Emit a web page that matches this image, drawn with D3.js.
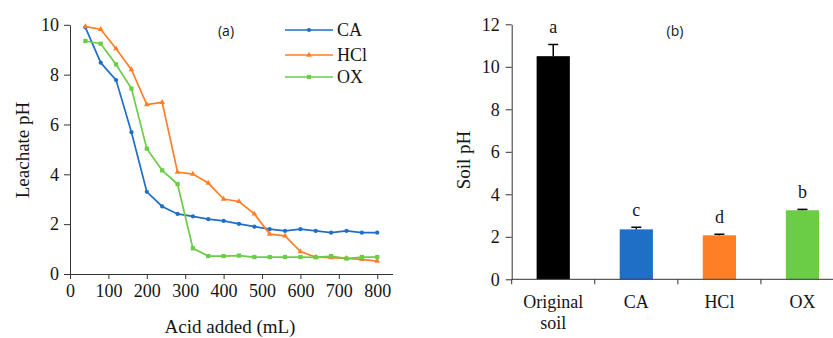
<!DOCTYPE html>
<html>
<head>
<meta charset="utf-8">
<script src="https://cdn.jsdelivr.net/npm/d3@7"></script>
<style>
  body { margin: 0; background: #fff; }
  .domain, .tick line { stroke: #333; }
</style>
</head>
<body>
<svg id="chart" width="833" height="338"></svg>
<script>
// leachate data (a)
var acidAdded = [40,80,120,160,200,240,280,320,360,400,440,480,520,560,600,640,680,720,760,800];
var caPH  = [9.9,8.48,7.78,5.69,3.3,2.71,2.41,2.31,2.2,2.13,2.01,1.9,1.8,1.73,1.8,1.73,1.66,1.73,1.66,1.66];
var hclPH = [9.93,9.82,9.04,8.2,6.8,6.89,4.09,4.01,3.65,3.01,2.91,2.41,1.6,1.53,0.9,0.68,0.66,0.63,0.59,0.52];
var oxPH  = [9.35,9.24,8.41,7.44,5.03,4.16,3.61,1.03,0.72,0.72,0.74,0.68,0.68,0.68,0.68,0.67,0.72,0.62,0.68,0.68];
var xTicksA = [0,100,200,300,400,500,600,700,800];
var yTicksA = [0,2,4,6,8,10];

// soil data (b)
var soilCats = ["Original soil","CA","HCl","OX"];
var soilPH   = [10.5,2.35,2.07,3.25];
var soilErr  = [0.55,0.1,0.05,0.04];
var soilLetters = ["a","c","d","b"];
var yTicksB = [0,2,4,6,8,10,12];

var colors = {ca:"#1f6fc6", hcl:"#ff7f27", ox:"#6acd45", orig:"#000000"};
var serif = "'Liberation Serif', 'Times New Roman', serif";
var sans = "'Open Sans', sans-serif";
var ink = "#151515";

var svg = d3.select("#chart");

function styleTicks(g){
  g.attr("font-family",null).attr("font-size",null);
  g.selectAll("text")
      .style("font-family",serif)
      .style("font-size","18px")
      .style("fill",ink);
}

function label(sel,size){
  return sel.style("font-family",serif).style("font-size",size || "18px").style("fill",ink);
}

// ---------- chart (a) ----------
var xA = d3.scaleLinear().domain([0,840]).range([70,392.6]);
var yA = d3.scaleLinear().domain([0,10]).range([274,24.8]);

svg.append("g")
    .attr("transform","translate(0,274)")
    .call(d3.axisBottom(xA).tickValues(xTicksA).tickSize(5).tickSizeOuter(0).tickPadding(5))
    .call(styleTicks);

svg.append("g")
    .attr("transform","translate(70,0)")
    .call(d3.axisLeft(yA).tickValues(yTicksA).tickSize(6).tickSizeOuter(0).tickPadding(5))
    .call(styleTicks);

var series = [
  {label:"CA",  values:caPH,  color:colors.ca,  sym:d3.symbolCircle,   size:14},
  {label:"HCl", values:hclPH, color:colors.hcl, sym:d3.symbolTriangle, size:14},
  {label:"OX",  values:oxPH,  color:colors.ox,  sym:d3.symbolSquare,   size:18}
];

var line = d3.line()
    .x(function(d,i){ return xA(acidAdded[i]); })
    .y(function(d){ return yA(d); });

series.forEach(function(s){
  svg.append("path")
      .datum(s.values)
      .attr("fill","none")
      .attr("stroke",s.color)
      .attr("stroke-width",1.7)
      .attr("d",line);
  svg.append("g").selectAll("path")
      .data(s.values)
      .enter().append("path")
      .attr("transform",function(d,i){ return "translate(" + xA(acidAdded[i]) + "," + yA(d) + ")"; })
      .attr("d",d3.symbol().type(s.sym).size(s.size))
      .attr("fill",s.color);
});

// legend
var legend = svg.append("g").attr("transform","translate(285,30)");
series.forEach(function(s,i){
  var yy = [0,25,47][i];
  legend.append("line")
      .attr("x1",0).attr("x2",48).attr("y1",yy).attr("y2",yy)
      .attr("stroke",s.color).attr("stroke-width",1.7);
  legend.append("path")
      .attr("transform","translate(24," + yy + ")")
      .attr("d",d3.symbol().type(s.sym).size(s.size))
      .attr("fill",s.color);
  label(legend.append("text"))
      .attr("x",52).attr("y",yy).attr("dy","0.35em")
      .text(s.label);
});

svg.append("text")
    .attr("x",226).attr("y",31).attr("dy","0.35em")
    .attr("text-anchor","middle")
    .style("font-family",sans).style("font-size","14px").style("fill",ink)
    .text("(a)");

label(svg.append("text"),"19px")
    .attr("transform","translate(22,150) rotate(-90)")
    .attr("text-anchor","middle").attr("dy","0.35em")
    .text("Leachate pH");

label(svg.append("text"),"19px")
    .attr("x",230).attr("y",326).attr("dy","0.35em")
    .attr("text-anchor","middle")
    .text("Acid added (mL)");

// ---------- chart (b) ----------
var xB = d3.scaleBand().domain(soilCats).range([511.7,844]).paddingInner(0.6).paddingOuter(0.3);
var yB = d3.scaleLinear().domain([0,12]).range([279.3,24.3]);

var barColors = [colors.orig, colors.ca, colors.hcl, colors.ox];

svg.append("g").selectAll("rect")
    .data(soilPH)
    .enter().append("rect")
    .attr("x",function(d,i){ return xB(soilCats[i]); })
    .attr("y",function(d){ return yB(d); })
    .attr("width",xB.bandwidth())
    .attr("height",function(d){ return yB(0) - yB(d); })
    .attr("fill",function(d,i){ return barColors[i]; });

// error bars (upper only) and letters
var err = svg.append("g");
soilPH.forEach(function(v,i){
  var cx = xB(soilCats[i]) + xB.bandwidth()/2;
  var top = yB(v+soilErr[i]);
  err.append("line")
      .attr("x1",cx).attr("x2",cx)
      .attr("y1",yB(v)).attr("y2",top)
      .attr("stroke","#000").attr("stroke-width",1.5);
  err.append("line")
      .attr("x1",cx-5).attr("x2",cx+5)
      .attr("y1",top).attr("y2",top)
      .attr("stroke","#000").attr("stroke-width",1.5);
  label(svg.append("text"))
      .attr("x",cx).attr("y",top - 11)
      .attr("text-anchor","middle")
      .text(soilLetters[i]);
});

// x axis with ticks between categories
var gap = xB.step()*xB.paddingInner()/2;
var xAxisB = svg.append("g").attr("transform","translate(0,279.3)");
xAxisB.append("line")
    .attr("x1",511.7).attr("x2",844)
    .attr("stroke","#333");
xAxisB.selectAll("line.tk")
    .data(soilCats)
    .enter().append("line")
    .attr("class","tk")
    .attr("x1",function(c){ return xB(c) - gap; })
    .attr("x2",function(c){ return xB(c) - gap; })
    .attr("y1",0).attr("y2",5)
    .attr("stroke","#333");
soilCats.forEach(function(c){
  var cx = xB(c) + xB.bandwidth()/2;
  var parts = c == "Original soil" ? ["Original","soil"] : [c];
  parts.forEach(function(p,j){
    label(xAxisB.append("text"))
        .attr("x",cx).attr("y",22 + j*21).attr("dy","0.35em")
        .attr("text-anchor","middle")
        .text(p);
  });
});

svg.append("g")
    .attr("transform","translate(511.7,0)")
    .call(d3.axisLeft(yB).tickValues(yTicksB).tickSize(6).tickSizeOuter(0).tickPadding(6))
    .call(styleTicks);

svg.append("text")
    .attr("x",675).attr("y",31).attr("dy","0.35em")
    .attr("text-anchor","middle")
    .style("font-family",sans).style("font-size","14px").style("fill",ink)
    .text("(b)");

label(svg.append("text"),"19px")
    .attr("transform","translate(463,160) rotate(-90)")
    .attr("text-anchor","middle").attr("dy","0.35em")
    .text("Soil pH");
</script>
</body>
</html>
